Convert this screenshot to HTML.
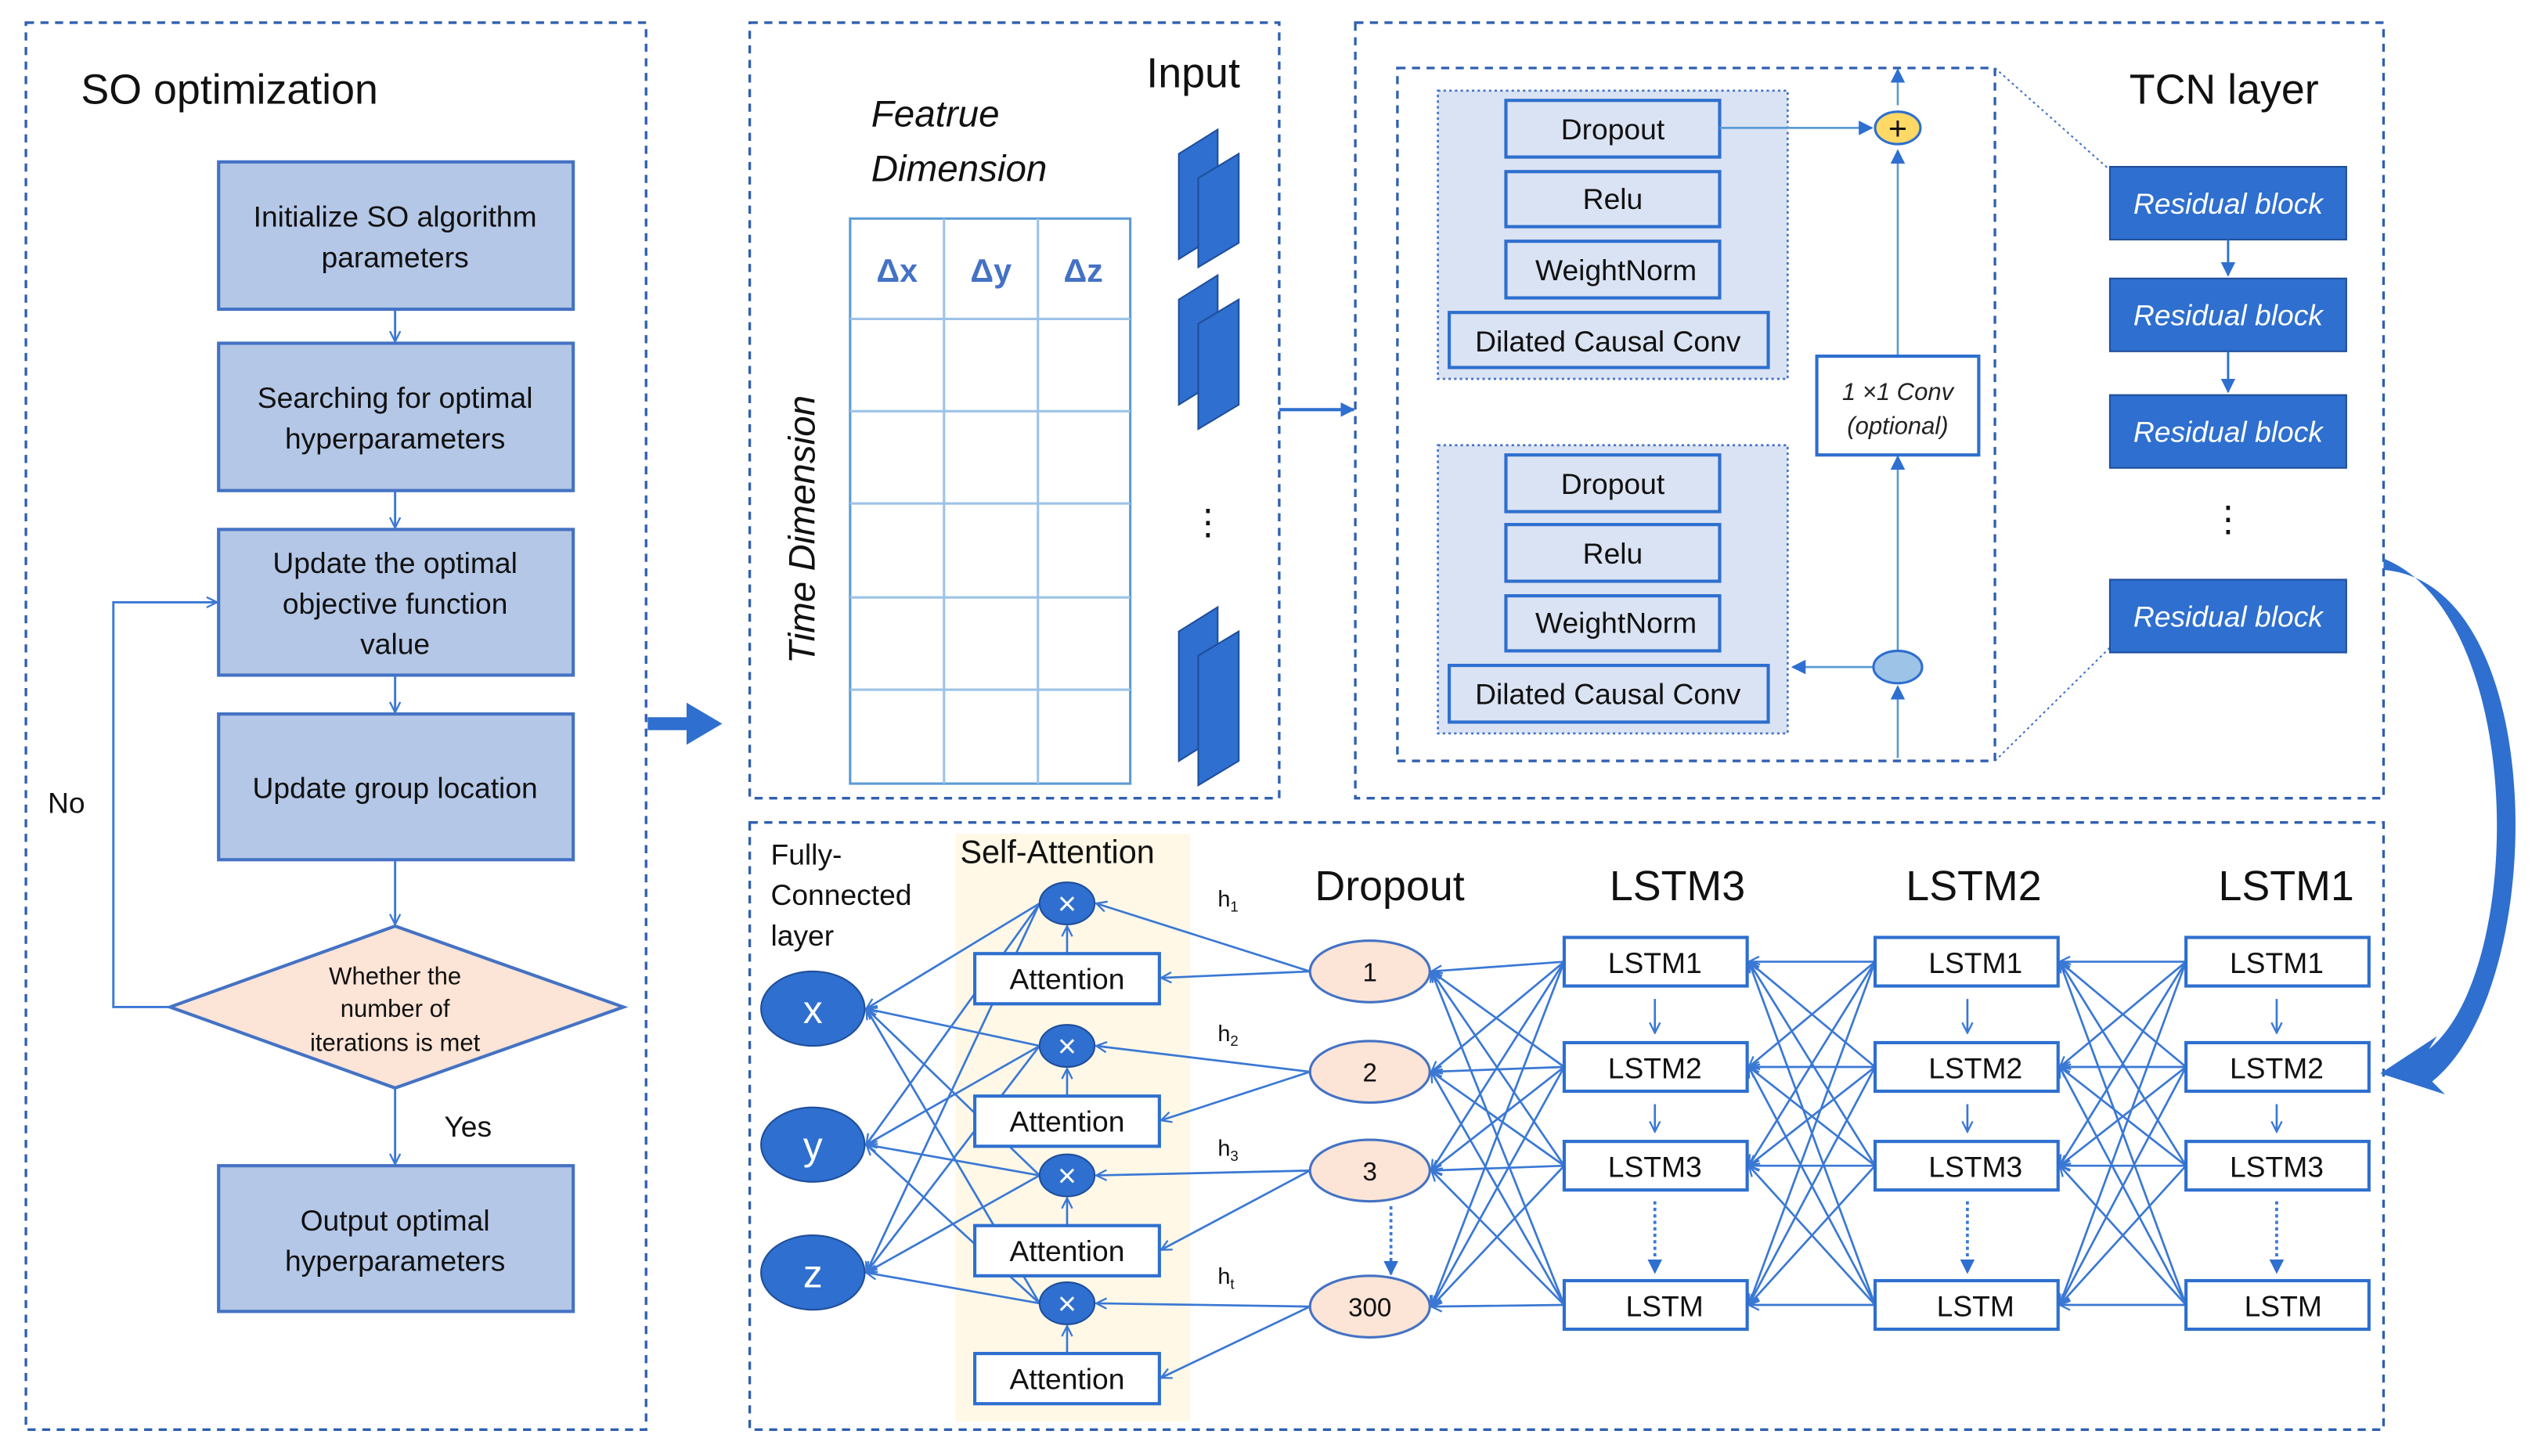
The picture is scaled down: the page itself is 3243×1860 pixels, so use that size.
<!DOCTYPE html>
<html><head><meta charset="utf-8"><style>html,body{margin:0;padding:0;background:#fff}svg{display:block}text{font-family:"Liberation Sans",sans-serif}</style></head><body>
<svg width="3243" height="1860" viewBox="0 0 1568 899.3" preserveAspectRatio="none" xmlns="http://www.w3.org/2000/svg">
<defs>
<marker id="o" viewBox="0 0 10 10" refX="9" refY="5" markerWidth="8" markerHeight="8" orient="auto" markerUnits="userSpaceOnUse"><path d="M1,1 L9,5 L1,9" fill="none" stroke="#3a78d4" stroke-width="1.4"/></marker>
<marker id="f" viewBox="0 0 10 10" refX="9" refY="5" markerWidth="9" markerHeight="9" orient="auto" markerUnits="userSpaceOnUse"><path d="M0,0 L10,5 L0,10 z" fill="#2e6fcf"/></marker>
</defs>
<g fill="none" stroke="#2f5fb0" stroke-width="1.6" stroke-dasharray="5,4">
<rect x="16" y="14" width="383" height="869"/>
<rect x="463" y="14" width="327" height="479"/>
<rect x="837" y="14" width="635" height="479"/>
<rect x="863" y="42" width="369" height="428"/>
<rect x="463" y="508" width="1009" height="375"/>
</g>
<text x="50" y="64" font-size="26" fill="#111">SO optimization</text>
<g fill="#b4c7e7" stroke="#4472c4" stroke-width="2">
<rect x="135" y="100" width="219" height="91"/><rect x="135" y="212" width="219" height="91"/>
<rect x="135" y="327" width="219" height="90"/><rect x="135" y="441" width="219" height="90"/>
<rect x="135" y="720" width="219" height="90"/>
</g>
<polygon points="244,572 385,622 244,672 105,622" fill="#fce4d6" stroke="#4472c4" stroke-width="2"/>
<g font-size="18" fill="#111" text-anchor="middle">
<text x="244" y="140">Initialize SO algorithm</text><text x="244" y="165">parameters</text>
<text x="244" y="252">Searching for optimal</text><text x="244" y="277">hyperparameters</text>
<text x="244" y="354">Update the optimal</text><text x="244" y="379">objective function</text><text x="244" y="404">value</text>
<text x="244" y="493">Update group location</text>
<text x="244" y="760">Output optimal</text><text x="244" y="785">hyperparameters</text>
<text x="244" y="608" font-size="15">Whether the</text><text x="244" y="628" font-size="15">number of</text><text x="244" y="649" font-size="15">iterations is met</text>
<text x="41" y="502">No</text><text x="289" y="702">Yes</text>
</g>
<g stroke="#3a78d4" stroke-width="1.4" fill="none" marker-end="url(#o)">
<line x1="244" y1="191" x2="244" y2="211"/><line x1="244" y1="303" x2="244" y2="326"/>
<line x1="244" y1="417" x2="244" y2="440"/><line x1="244" y1="531" x2="244" y2="571"/>
<line x1="244" y1="672" x2="244" y2="719"/>
<polyline points="105,622 70,622 70,372 134,372"/>
</g>
<polygon points="400,443 424,443 424,434 446,447 424,460 424,451 400,451" fill="#2e6fcf"/>
<!-- panel 2 -->
<text x="708" y="54" font-size="26" fill="#111">Input</text>
<text x="538" y="78" font-size="23" font-style="italic" fill="#111">Featrue</text>
<text x="538" y="112" font-size="23" font-style="italic" fill="#111">Dimension</text>
<text transform="translate(503,410) rotate(-90)" font-size="23" font-style="italic" fill="#111">Time Dimension</text>
<g stroke="#9dc3e6" stroke-width="1.5" fill="none">
<rect x="525" y="135" width="173" height="349" stroke="#5b9bd5"/>
<line x1="583" y1="135" x2="583" y2="484"/><line x1="641" y1="135" x2="641" y2="484"/>
<line x1="525" y1="197" x2="698" y2="197"/><line x1="525" y1="254" x2="698" y2="254"/>
<line x1="525" y1="311" x2="698" y2="311"/><line x1="525" y1="369" x2="698" y2="369"/>
<line x1="525" y1="426" x2="698" y2="426"/>
</g>
<g font-size="20" font-weight="bold" fill="#4472c4" text-anchor="middle"><text x="554" y="174">Δx</text><text x="612" y="174">Δy</text><text x="669" y="174">Δz</text></g>
<g fill="#2e6fcf" stroke="#1f4e9a" stroke-width="1">
<polygon points="728,95 752,80 752,145 728,160"/><polygon points="740,110 765,95 765,150 740,165"/>
<polygon points="728,185 752,170 752,235 728,250"/><polygon points="740,200 765,185 765,250 740,265"/>
<polygon points="728,390 752,375 752,455 728,470"/><polygon points="740,405 765,390 765,470 740,485"/>
</g>
<text x="746" y="330" font-size="22" text-anchor="middle" fill="#111">⋮</text>
<line x1="790" y1="253" x2="836" y2="253" stroke="#2e6fcf" stroke-width="2" marker-end="url(#f)"/>
<!-- TCN -->
<g fill="#dae3f3" stroke="#4472c4" stroke-width="1.3" stroke-dasharray="1.5,2">
<rect x="888" y="56" width="216" height="178"/><rect x="888" y="275" width="216" height="178"/>
</g>
<g fill="#dae3f3" stroke="#2e6fcf" stroke-width="2">
<rect x="930" y="62" width="132" height="35"/><rect x="930" y="106" width="132" height="34"/>
<rect x="930" y="149" width="132" height="35"/><rect x="895" y="193" width="197" height="34"/>
<rect x="930" y="281" width="132" height="35"/><rect x="930" y="324" width="132" height="35"/>
<rect x="930" y="368" width="132" height="34"/><rect x="895" y="411" width="197" height="35"/>
</g>
<g font-size="18" fill="#111" text-anchor="middle">
<text x="996" y="86">Dropout</text><text x="996" y="129">Relu</text><text x="998" y="173">WeightNorm</text><text x="993" y="217">Dilated Causal Conv</text>
<text x="996" y="305">Dropout</text><text x="996" y="348">Relu</text><text x="998" y="391">WeightNorm</text><text x="993" y="435">Dilated Causal Conv</text>
</g>
<g stroke="#5b9bd5" stroke-width="1.3" fill="none">
<line x1="1172" y1="468" x2="1172" y2="424" marker-end="url(#f)"/>
<line x1="1172" y1="402" x2="1172" y2="282" marker-end="url(#f)"/>
<line x1="1172" y1="220" x2="1172" y2="93" marker-end="url(#f)"/>
<line x1="1172" y1="65" x2="1172" y2="43" marker-end="url(#f)"/>
<line x1="1062" y1="79" x2="1156" y2="79" marker-end="url(#f)"/>
<line x1="1157" y1="412" x2="1107" y2="412" marker-end="url(#f)"/>
</g>
<rect x="1122" y="220" width="100" height="61" fill="#fff" stroke="#2e6fcf" stroke-width="2"/>
<text x="1172" y="247" font-size="15" font-style="italic" text-anchor="middle" fill="#222">1 ×1 Conv</text>
<text x="1172" y="268" font-size="15" font-style="italic" text-anchor="middle" fill="#222">(optional)</text>
<ellipse cx="1172" cy="79" rx="14" ry="10" fill="#ffd966" stroke="#2e6fcf" stroke-width="1.5"/>
<text x="1172" y="86" font-size="20" text-anchor="middle" fill="#111">+</text>
<ellipse cx="1172" cy="412" rx="15" ry="10" fill="#9dc3e6" stroke="#2e6fcf" stroke-width="1.5"/>
<g stroke="#4472c4" stroke-width="1" stroke-dasharray="1.5,2"><line x1="1232" y1="42" x2="1303" y2="105"/><line x1="1232" y1="470" x2="1303" y2="400"/></g>
<text x="1315" y="64" font-size="26" fill="#111">TCN layer</text>
<g fill="#2e6fcf" stroke="#1f4e9a" stroke-width="1">
<rect x="1303" y="103" width="146" height="45"/><rect x="1303" y="172" width="146" height="45"/>
<rect x="1303" y="244" width="146" height="45"/><rect x="1303" y="358" width="146" height="45"/>
</g>
<g font-size="18" font-style="italic" fill="#fff" text-anchor="middle">
<text x="1376" y="132">Residual block</text><text x="1376" y="201">Residual block</text><text x="1376" y="273">Residual block</text><text x="1376" y="387">Residual block</text>
</g>
<g stroke="#2e6fcf" stroke-width="1.4"><line x1="1376" y1="148" x2="1376" y2="170" marker-end="url(#f)"/><line x1="1376" y1="217" x2="1376" y2="242" marker-end="url(#f)"/></g>
<text x="1376" y="328" font-size="22" text-anchor="middle" fill="#111">⋮</text>
<path d="M1472,345 C1560,380 1560,600 1500,648 L1505,640 L1470,663 L1510,676 L1502,668 C1575,610 1575,360 1472,352 Z" fill="#2e6fcf"/>
<!-- bottom -->
<rect x="590" y="515" width="145" height="363" fill="#fff8e6"/>
<g font-size="18" fill="#111"><text x="476" y="534">Fully-</text><text x="476" y="559">Connected</text><text x="476" y="584">layer</text></g>
<text x="593" y="533" font-size="20" fill="#111">Self-Attention</text>
<g font-size="26" fill="#111"><text x="812" y="556">Dropout</text><text x="994" y="556">LSTM3</text><text x="1177" y="556">LSTM2</text><text x="1370" y="556">LSTM1</text></g>
<g stroke="#3a78d4" stroke-width="1.3" fill="none" marker-end="url(#o)">
<!-- x to xyz -->
<line x1="642" y1="558" x2="535" y2="623"/><line x1="642" y1="558" x2="535" y2="707"/><line x1="642" y1="558" x2="535" y2="786"/>
<line x1="642" y1="646" x2="535" y2="623"/><line x1="642" y1="646" x2="535" y2="707"/><line x1="642" y1="646" x2="535" y2="786"/>
<line x1="642" y1="726" x2="535" y2="623"/><line x1="642" y1="726" x2="535" y2="707"/><line x1="642" y1="726" x2="535" y2="786"/>
<line x1="642" y1="805" x2="535" y2="623"/><line x1="642" y1="805" x2="535" y2="707"/><line x1="642" y1="805" x2="535" y2="786"/>
<!-- dropout to x / attention -->
<line x1="809" y1="600" x2="677" y2="558"/><line x1="809" y1="600" x2="717" y2="604"/>
<line x1="809" y1="662" x2="677" y2="646"/><line x1="809" y1="662" x2="717" y2="692"/>
<line x1="809" y1="723" x2="677" y2="726"/><line x1="809" y1="723" x2="717" y2="772"/>
<line x1="809" y1="807" x2="677" y2="805"/><line x1="809" y1="807" x2="717" y2="851"/>
<line x1="659" y1="589" x2="659" y2="572"/><line x1="659" y1="677" x2="659" y2="660"/>
<line x1="659" y1="757" x2="659" y2="740"/><line x1="659" y1="836" x2="659" y2="819"/>
<!-- gap 1 -->
<line x1="966" y1="594" x2="884" y2="600"/><line x1="966" y1="594" x2="884" y2="662"/><line x1="966" y1="594" x2="884" y2="723"/><line x1="966" y1="594" x2="884" y2="807"/>
<line x1="966" y1="659" x2="884" y2="600"/><line x1="966" y1="659" x2="884" y2="662"/><line x1="966" y1="659" x2="884" y2="723"/><line x1="966" y1="659" x2="884" y2="807"/>
<line x1="966" y1="720" x2="884" y2="600"/><line x1="966" y1="720" x2="884" y2="662"/><line x1="966" y1="720" x2="884" y2="723"/><line x1="966" y1="720" x2="884" y2="807"/>
<line x1="966" y1="806" x2="884" y2="600"/><line x1="966" y1="806" x2="884" y2="662"/><line x1="966" y1="806" x2="884" y2="723"/><line x1="966" y1="806" x2="884" y2="807"/>
<!-- gap 2 -->
<line x1="1158" y1="594" x2="1080" y2="594"/><line x1="1158" y1="594" x2="1080" y2="659"/><line x1="1158" y1="594" x2="1080" y2="720"/><line x1="1158" y1="594" x2="1080" y2="806"/>
<line x1="1158" y1="659" x2="1080" y2="594"/><line x1="1158" y1="659" x2="1080" y2="659"/><line x1="1158" y1="659" x2="1080" y2="720"/><line x1="1158" y1="659" x2="1080" y2="806"/>
<line x1="1158" y1="720" x2="1080" y2="594"/><line x1="1158" y1="720" x2="1080" y2="659"/><line x1="1158" y1="720" x2="1080" y2="720"/><line x1="1158" y1="720" x2="1080" y2="806"/>
<line x1="1158" y1="806" x2="1080" y2="594"/><line x1="1158" y1="806" x2="1080" y2="659"/><line x1="1158" y1="806" x2="1080" y2="720"/><line x1="1158" y1="806" x2="1080" y2="806"/>
<!-- gap 3 -->
<line x1="1350" y1="594" x2="1272" y2="594"/><line x1="1350" y1="594" x2="1272" y2="659"/><line x1="1350" y1="594" x2="1272" y2="720"/><line x1="1350" y1="594" x2="1272" y2="806"/>
<line x1="1350" y1="659" x2="1272" y2="594"/><line x1="1350" y1="659" x2="1272" y2="659"/><line x1="1350" y1="659" x2="1272" y2="720"/><line x1="1350" y1="659" x2="1272" y2="806"/>
<line x1="1350" y1="720" x2="1272" y2="594"/><line x1="1350" y1="720" x2="1272" y2="659"/><line x1="1350" y1="720" x2="1272" y2="720"/><line x1="1350" y1="720" x2="1272" y2="806"/>
<line x1="1350" y1="806" x2="1272" y2="594"/><line x1="1350" y1="806" x2="1272" y2="659"/><line x1="1350" y1="806" x2="1272" y2="720"/><line x1="1350" y1="806" x2="1272" y2="806"/>
<!-- verticals -->
<line x1="1022" y1="617" x2="1022" y2="638"/><line x1="1022" y1="682" x2="1022" y2="699"/>
<line x1="1215" y1="617" x2="1215" y2="638"/><line x1="1215" y1="682" x2="1215" y2="699"/>
<line x1="1406" y1="617" x2="1406" y2="638"/><line x1="1406" y1="682" x2="1406" y2="699"/>
</g>
<g stroke="#3a78d4" stroke-width="1.8" stroke-dasharray="2,2" marker-end="url(#f)">
<line x1="859" y1="745" x2="859" y2="787"/><line x1="1022" y1="742" x2="1022" y2="786"/>
<line x1="1215" y1="742" x2="1215" y2="786"/><line x1="1406" y1="742" x2="1406" y2="786"/>
</g>
<g fill="#fff" stroke="#2e6fcf" stroke-width="2">
<rect x="602" y="589" width="114" height="31"/><rect x="602" y="677" width="114" height="31"/>
<rect x="602" y="757" width="114" height="31"/><rect x="602" y="836" width="114" height="31"/>
<rect x="966" y="579" width="113" height="30"/><rect x="966" y="644" width="113" height="30"/><rect x="966" y="705" width="113" height="30"/><rect x="966" y="791" width="113" height="30"/>
<rect x="1158" y="579" width="113" height="30"/><rect x="1158" y="644" width="113" height="30"/><rect x="1158" y="705" width="113" height="30"/><rect x="1158" y="791" width="113" height="30"/>
<rect x="1350" y="579" width="113" height="30"/><rect x="1350" y="644" width="113" height="30"/><rect x="1350" y="705" width="113" height="30"/><rect x="1350" y="791" width="113" height="30"/>
</g>
<g font-size="18" fill="#111" text-anchor="middle">
<text x="659" y="611">Attention</text><text x="659" y="699">Attention</text><text x="659" y="779">Attention</text><text x="659" y="858">Attention</text>
<text x="1022" y="601">LSTM1</text><text x="1022" y="666">LSTM2</text><text x="1022" y="727">LSTM3</text><text x="1028" y="813">LSTM</text>
<text x="1220" y="601">LSTM1</text><text x="1220" y="666">LSTM2</text><text x="1220" y="727">LSTM3</text><text x="1220" y="813">LSTM</text>
<text x="1406" y="601">LSTM1</text><text x="1406" y="666">LSTM2</text><text x="1406" y="727">LSTM3</text><text x="1410" y="813">LSTM</text>
</g>
<g fill="#2e6fcf" stroke="#1f4e9a" stroke-width="1">
<ellipse cx="502" cy="623" rx="32" ry="23"/><ellipse cx="502" cy="707" rx="32" ry="23"/><ellipse cx="502" cy="786" rx="32" ry="23"/>
<ellipse cx="659" cy="558" rx="17" ry="13"/><ellipse cx="659" cy="646" rx="17" ry="13"/><ellipse cx="659" cy="726" rx="17" ry="13"/><ellipse cx="659" cy="805" rx="17" ry="13"/>
</g>
<g fill="#fff" text-anchor="middle">
<text x="502" y="632" font-size="24">x</text><text x="502" y="716" font-size="24">y</text><text x="502" y="795" font-size="24">z</text>
<text x="659" y="565" font-size="20">×</text><text x="659" y="653" font-size="20">×</text><text x="659" y="733" font-size="20">×</text><text x="659" y="812" font-size="20">×</text>
</g>
<g fill="#fce4d6" stroke="#4472c4" stroke-width="1.5">
<ellipse cx="846" cy="600" rx="37" ry="19"/><ellipse cx="846" cy="662" rx="37" ry="19"/><ellipse cx="846" cy="723" rx="37" ry="19"/><ellipse cx="846" cy="807" rx="37" ry="19"/>
</g>
<g font-size="16" fill="#111" text-anchor="middle"><text x="846" y="606">1</text><text x="846" y="668">2</text><text x="846" y="729">3</text><text x="846" y="813">300</text></g>
<g font-size="14" fill="#111"><text x="752" y="560">h<tspan font-size="9" dy="3">1</tspan></text><text x="752" y="643">h<tspan font-size="9" dy="3">2</tspan></text><text x="752" y="714">h<tspan font-size="9" dy="3">3</tspan></text><text x="752" y="793">h<tspan font-size="9" dy="3">t</tspan></text></g>
</svg>
</body></html>
